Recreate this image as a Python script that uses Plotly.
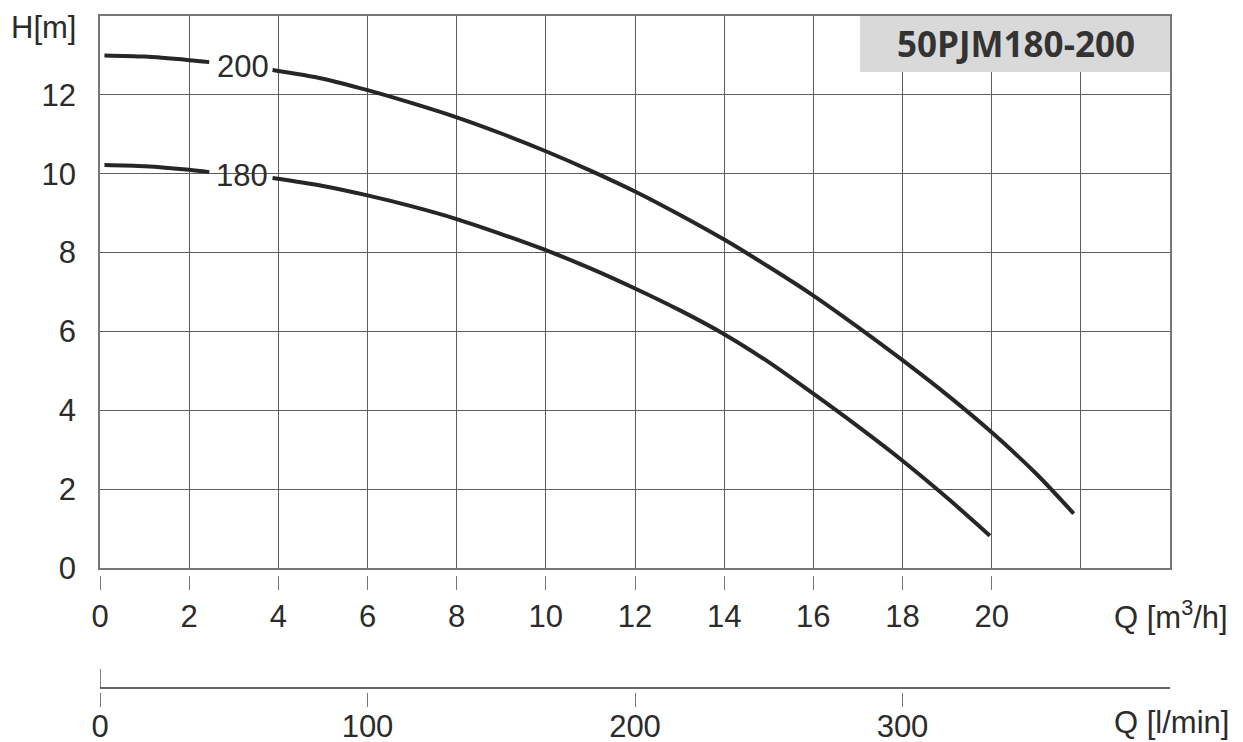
import plotly.graph_objects as go

# ---------------- data ----------------
Q_200 = [0.1, 1.0, 2.0, 2.45, None, 3.87, 5, 6, 7, 8, 9, 10, 11, 12, 13, 14, 15, 16, 17, 18, 19, 20, 21, 21.84]
H_200 = [13.0, 12.97, 12.88, 12.83, None, 12.63, 12.41, 12.12, 11.79, 11.43, 11.02, 10.57, 10.08, 9.55, 8.96,
         8.33, 7.64, 6.91, 6.11, 5.27, 4.39, 3.44, 2.39, 1.38]
Q_180 = [0.1, 1.0, 2.0, 2.45, None, 3.87, 5, 6, 7, 8, 9, 10, 11, 12, 13, 14, 15, 16, 17, 18, 19, 19.96]
H_180 = [10.22, 10.19, 10.1, 10.04, None, 9.89, 9.69, 9.45, 9.17, 8.85, 8.47, 8.06, 7.60, 7.09, 6.54,
         5.93, 5.22, 4.42, 3.59, 2.72, 1.78, 0.82]
CURVE_NAMES = ["200", "180"]
LABEL_POS_Q = [3.21, 3.19]
LABEL_POS_H = [12.73, 9.96]

X_TICKS = [0, 2, 4, 6, 8, 10, 12, 14, 16, 18, 20]
X_GRID = [0, 2, 4, 6, 8, 10, 12, 14, 16, 18, 20, 22, 24]
Y_TICKS = [0, 2, 4, 6, 8, 10, 12]
LMIN_TICKS = [0, 100, 200, 300]
TITLE = "50PJM180-200"

W, H = 1243, 742
OFF = 8            # page body margin
TOP = 16 - OFF
def fy(px):        # px in page coordinates -> paper fraction
    return (H - (px - OFF)) / (H - TOP)

LINE_COL = "#262626"
GRID_COL = "#5e5e5e"
TXT_COL = "#2b2b2b"
FONT = "Liberation Sans, Arial, sans-serif"
FS = 31

fig = go.Figure()
for q, h in [(Q_200, H_200), (Q_180, H_180)]:
    fig.add_trace(go.Scatter(x=q, y=h, mode="lines", line=dict(color=LINE_COL, width=4, shape="spline", smoothing=0.8),
                             hoverinfo="skip", showlegend=False))

# helper traces so the secondary axes are drawn
qq = [q for q in Q_200 if q is not None]
hh = [h for h in H_200 if h is not None]
fig.add_trace(go.Scatter(x=qq, y=hh, xaxis="x2", mode="lines", line=dict(width=0), opacity=0,
                         hoverinfo="skip", showlegend=False))
fig.add_trace(go.Scatter(x=[q * 1000 / 60 for q in qq], y=hh, xaxis="x3", mode="lines", line=dict(width=0),
                         opacity=0, hoverinfo="skip", showlegend=False))

fig.update_layout(
    width=W, height=H,
    margin=dict(l=100 - OFF, r=W - (1170 - OFF), t=TOP, b=0, autoexpand=False),
    paper_bgcolor="white", plot_bgcolor="white",
    font=dict(family=FONT, size=FS, color=TXT_COL),
    showlegend=False,
    xaxis=dict(range=[0, 24], tickvals=X_GRID, showticklabels=False, ticks="",
               showgrid=True, gridcolor=GRID_COL, gridwidth=1.2, zeroline=False,
               showline=True, linecolor="#777777", linewidth=1.5, mirror=True),
    xaxis2=dict(range=[0, 24], overlaying="x", anchor="free", position=fy(575), side="bottom",
                tickvals=X_TICKS, ticks="outside", ticklen=14, tickcolor="#777777", tickwidth=1.2,
                showgrid=False, zeroline=False, showline=False,
                tickfont=dict(family=FONT, size=FS, color=TXT_COL), ticklabelstandoff=0),
    xaxis3=dict(range=[0, 400], overlaying="x", anchor="free", position=fy(692), side="bottom",
                tickvals=LMIN_TICKS, ticks="outside", ticklen=14, tickcolor="#777777", tickwidth=1.2,
                showgrid=False, zeroline=False, showline=False,
                tickfont=dict(family=FONT, size=FS, color=TXT_COL), ticklabelstandoff=-7),
    yaxis=dict(range=[0, 14], domain=[fy(568), 1], tickvals=Y_TICKS, ticks="",
               showgrid=True, gridcolor=GRID_COL, gridwidth=1.2, zeroline=False,
               showline=True, linecolor="#777777", linewidth=1.5, mirror=True,
               tickfont=dict(family=FONT, size=FS, color=TXT_COL), ticklabelstandoff=16),
)

# title box
fig.add_shape(type="rect", xref="x", yref="y", x0=17.05, x1=24, y0=12.58, y1=14,
              fillcolor="#d9d9d9", line=dict(width=0), layer="above")
fig.add_annotation(x=20.55, y=13.3, xref="x", yref="y", text="<b>" + TITLE + "</b>", showarrow=False,
                   font=dict(family="Open Sans, Noto Sans, sans-serif", size=35, color="#333333"))

# curve labels
for name, q, h in zip(CURVE_NAMES, LABEL_POS_Q, LABEL_POS_H):
    fig.add_annotation(x=q, y=h, xref="x", yref="y", text=name, showarrow=False,
                       font=dict(family=FONT, size=FS, color=TXT_COL))

# l/min axis line and the small upward tick at 0
fig.add_shape(type="line", xref="paper", yref="paper", x0=0, x1=1, y0=fy(688), y1=fy(688),
              line=dict(color="#333333", width=1.3))
fig.add_shape(type="line", xref="x3", yref="paper", x0=0, x1=0, y0=fy(688), y1=fy(669),
              line=dict(color="#333333", width=1.2))

# axis titles
fig.add_annotation(x=-22 / 1070, y=fy(27), xref="paper", yref="paper", text="H[m]", showarrow=False,
                   xanchor="right", yanchor="middle", font=dict(family=FONT, size=FS, color=TXT_COL))
fig.add_annotation(x=1.0, y=fy(615), xref="paper", yref="paper", text="Q [m<sup>3</sup>/h]", showarrow=False,
                   xanchor="left", yanchor="middle", xshift=-58, font=dict(family=FONT, size=FS, color=TXT_COL))
fig.add_annotation(x=1.0, y=fy(722), xref="paper", yref="paper", text="Q [l/min]", showarrow=False,
                   xanchor="left", yanchor="middle", xshift=-58, font=dict(family=FONT, size=FS, color=TXT_COL))

fig.write_html("out.html")
